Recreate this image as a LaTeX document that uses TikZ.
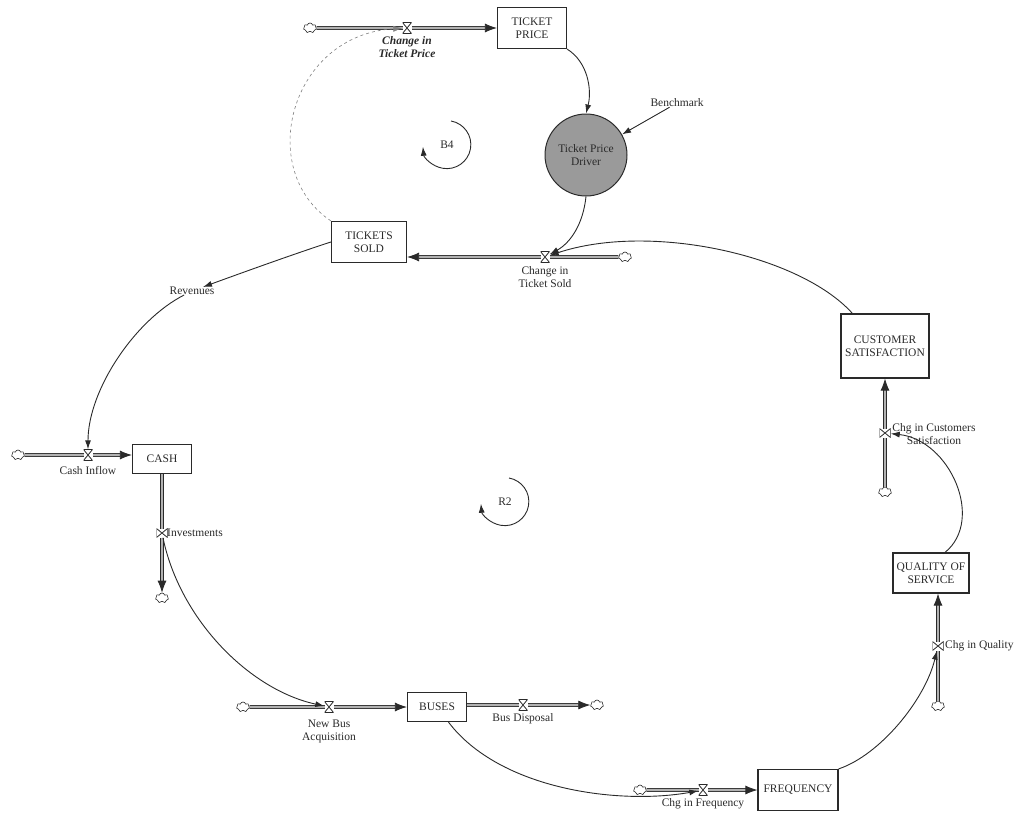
\documentclass[tikz,border=0pt]{standalone}
\usepackage{fontspec}
\setmainfont{Liberation Serif}
\usetikzlibrary{arrows.meta,shapes.symbols}
\definecolor{ink}{HTML}{2A2A2A}
\definecolor{drvgray}{HTML}{9A9A9A}

\begin{document}
\begin{tikzpicture}[x=1pt,y=-1pt,
    font=\fontsize{11.5}{13}\selectfont,
    stock/.style={draw=ink,line width=1.2pt,fill=white,align=center,inner sep=0pt,text=ink},
    pipe/.style={draw=ink,line width=0.8pt,double=black!30,double distance=2.2pt,-{Latex[length=12pt,width=9pt]}},
    source/.style={cloud,cloud puffs=7,draw=ink,fill=white,line width=0.6pt,minimum width=13pt,minimum height=10pt,inner sep=0pt},
    valve/.style={fill=white,minimum width=9pt,minimum height=11pt,inner sep=0pt,
      path picture={\draw[ink,line width=0.8pt] (path picture bounding box.north west)--(path picture bounding box.north east)
        --(path picture bounding box.south west)--(path picture bounding box.south east)--cycle;}},
    vvalve/.style={fill=white,minimum width=11pt,minimum height=9pt,inner sep=0pt,
      path picture={\draw[ink,line width=0.8pt] (path picture bounding box.north west)--(path picture bounding box.south west)
        --(path picture bounding box.north east)--(path picture bounding box.south east)--cycle;}},
    link/.style={draw=ink,line width=0.9pt,-{Latex[length=9pt,width=6pt]}},
    lbl/.style={text=ink,align=center,inner sep=0pt}]
  \useasboundingbox (0,0) rectangle (1024,827);

  \node[stock,minimum width=69pt,minimum height=41pt] (tp) at (532,28) {TICKET\\PRICE};
  \node[stock,minimum width=75pt,minimum height=41pt] (ts) at (369,242) {TICKETS\\SOLD};
  \node[stock,minimum width=59pt,minimum height=29pt] (cash) at (162,459) {CASH};
  \node[stock,minimum width=59pt,minimum height=29pt] (bus) at (437,707) {BUSES};
  \node[stock,minimum width=80pt,minimum height=41pt] (freq) at (798,790) {FREQUENCY};
  \node[stock,minimum width=76pt,minimum height=40pt] (qos) at (931,573) {QUALITY OF\\SERVICE};
  \node[stock,minimum width=88pt,minimum height=64pt] (cs) at (885,346) {CUSTOMER\\SATISFACTION};
  \node[circle,draw=ink,fill=drvgray,line width=1pt,minimum size=82pt,inner sep=0pt,align=center,text=ink] (drv) at (586,155) {Ticket Price\\Driver};

  \node[source] (cTP) at (310,28) {};
  \node[source] (cTS) at (625,257) {};
  \node[source] (cCI) at (18,455) {};
  \node[source] (cIV) at (162,598) {};
  \node[source] (cNB) at (243,707) {};
  \node[source] (cBD) at (597,705) {};
  \node[source] (cCF) at (640,790) {};
  \node[source] (cCQ) at (938,706) {};
  \node[source] (cCS) at (885,492) {};

  \draw[pipe] (cTP) -- (tp.west |- cTP);
  \draw[pipe] (cTS) -- (ts.east |- cTS);
  \draw[pipe] (cCI) -- (cash.west |- cCI);
  \draw[pipe] (cash.south) -- (cIV);
  \draw[pipe] (cNB) -- (bus.west |- cNB);
  \draw[pipe] (bus.east |- cBD) -- (cBD);
  \draw[pipe] (cCF) -- (freq.west);
  \draw[pipe] (cCQ) -- (qos.south -| cCQ);
  \draw[pipe] (cCS) -- (cs.south);

  \node[valve] (vTP) at (407,28) {};
  \node[valve] (vTS) at (545,257) {};
  \node[valve] (vCI) at (88,455) {};
  \node[vvalve] (vIV) at (162,533) {};
  \node[valve] (vNB) at (329,707) {};
  \node[valve] (vBD) at (523,705) {};
  \node[valve] (vCF) at (703,790) {};
  \node[vvalve] (vCQ) at (938,646) {};
  \node[vvalve] (vCS) at (885,433) {};

  \node[lbl,font=\fontsize{11.5}{13}\selectfont\bfseries\itshape] (lTP) at (407,47) {Change in\\Ticket Price};
  \node[lbl] (lTS) at (545,277) {Change in\\Ticket Sold};
  \node[lbl] (lCI) at (88,470) {Cash Inflow};
  \node[lbl,anchor=west] (lIV) at (167,533) {Investments};
  \node[lbl] (lNB) at (329,731) {New Bus\\Acquisition};
  \node[lbl] (lBD) at (523,719) {Bus Disposal};
  \node[lbl] (lCF) at (703,804) {Chg in Frequency};
  \node[lbl,anchor=west] (lCQ) at (945,646) {Chg in Quality};
  \node[lbl] (lCS) at (934,434) {Chg in Customers\\Satisfaction};
  \node[lbl] (bm) at (677,103) {Benchmark};
  \node[lbl] (rev) at (192,291) {Revenues};

  \draw[link] (tp.south east) .. controls (588,62) and (592,90) .. (drv.north);
  \draw[link] (bm) -- (drv);
  \draw[link] (drv.south) .. controls (583,225) and (570,243) .. (vTS);
  \draw[link] ([xshift=12pt]cs.north west) .. controls (800,255) and (650,222) .. (vTS);
  \draw[link,draw=gray,dashed,line width=0.6pt] (ts.north west) .. controls (255,170) and (290,35) .. (vTP);
  \draw[link] (ts.west) .. controls (300,252) and (255,268) .. (rev);
  \draw[link] (rev) .. controls (135,320) and (88,390) .. (vCI);
  \draw[link] (vIV) .. controls (180,620) and (250,690) .. (vNB);
  \draw[link] (bus) .. controls (500,790) and (620,805) .. (vCF);
  \draw[link] (freq.north east) .. controls (880,755) and (925,700) .. (vCQ);
  \draw[link] (qos.north) ++(14,0) .. controls (985,520) and (950,440) .. (vCS);

  \node[lbl] (b4) at (447,145) {B4};
  \draw[link] (b4) ++(4,-24) arc[start angle=280,end angle=535,radius=24];
  \node[lbl] (r2) at (505,502) {R2};
  \draw[link] (r2) ++(4,-24) arc[start angle=280,end angle=535,radius=24];
\end{tikzpicture}
\end{document}
